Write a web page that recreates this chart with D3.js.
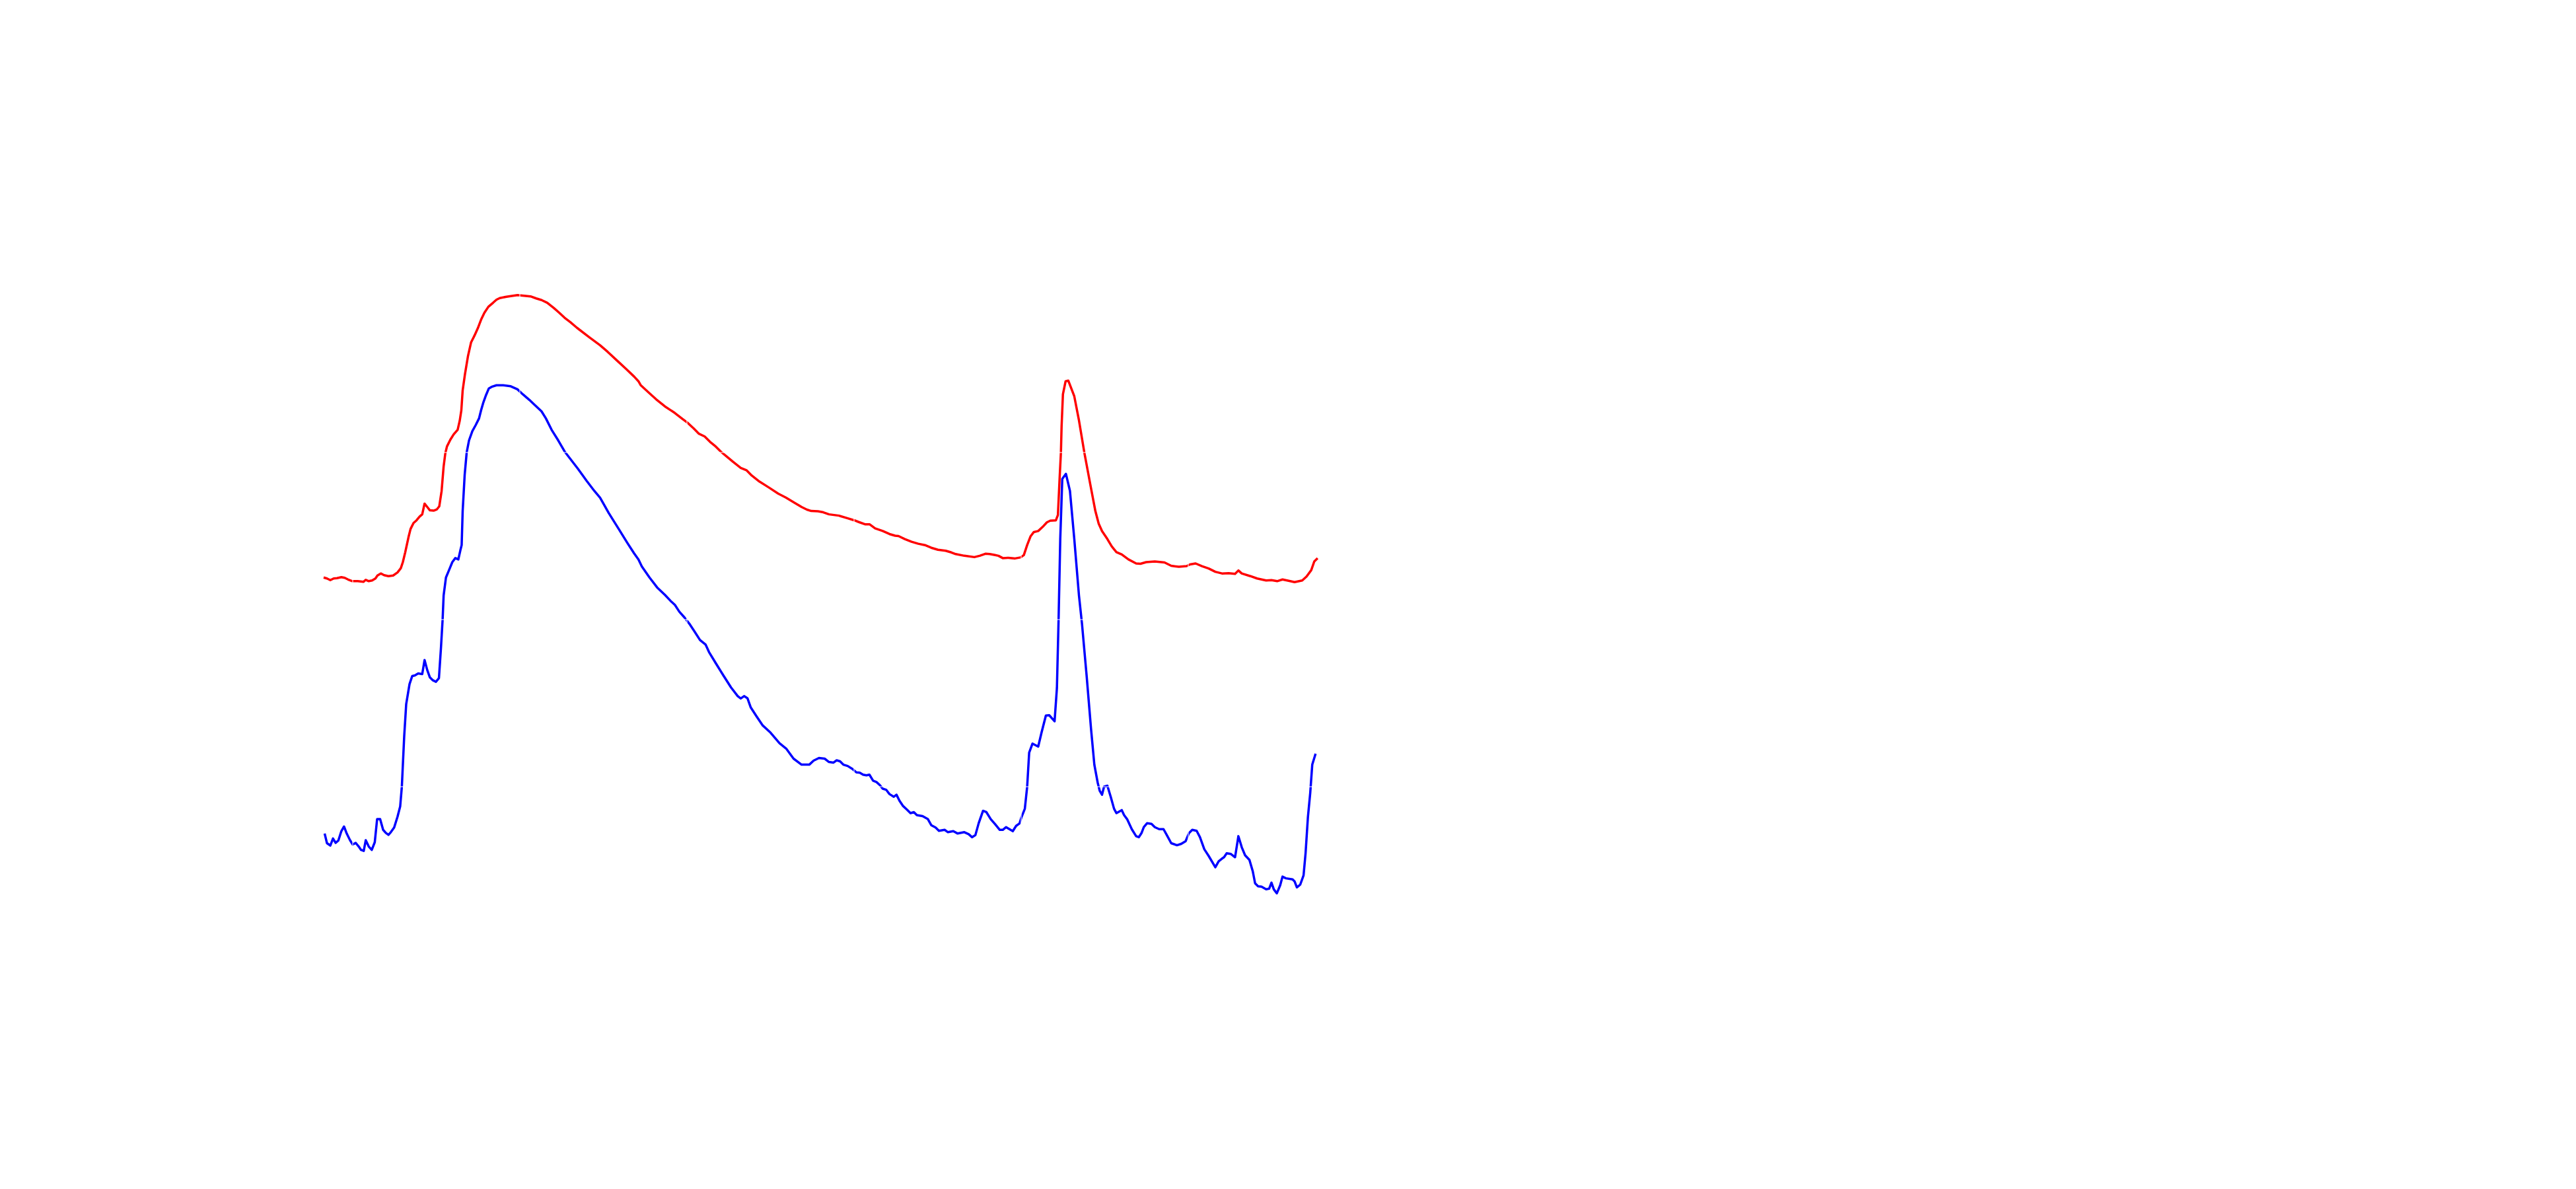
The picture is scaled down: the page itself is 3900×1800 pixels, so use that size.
<!DOCTYPE html>
<html>
<head>
<meta charset="utf-8">
<script src="https://cdn.jsdelivr.net/npm/d3@7"></script>
<style>
  html, body { margin: 0; padding: 0; background: #ffffff; }
  svg { display: block; }
</style>
</head>
<body>
<div id="chart"></div>
<script>
// ---- data ----
const redX = [91.3,92.3,93.3,94.3,95.3,96.6,97.6,98.6,99.9,101.5,103.2,103.9,104.8,105.8,106.8,107.4,108.4,109.4,110.7,112.1,113.4,114.4,115.0,115.7,116.7,117.3,118.2,119.1,120.0,120.8,121.5,122.3,123.1,124.2,125.2,125.9,126.6,127.2,127.7,128.2,129.2,130.2,131.4,132.0,132.5,132.9,133.6,134.5,135.4,136.4,137.4,138.4,139.4,140.6,142.0,143.0,144.0,146.0,147.3,149.3,151.3,153.2,154.9,156.5,158.2,160.2,161.8,163.4,165.1,
  167.1,171.0,174.0,176.3,179.2,181.9,184.2,185.5,186.2,188.5,190.8,193.4,196.4,198.7,200.3,202.0,203.6,205.3,206.9,208.6,210.2,211.9,213.8,216.1,217.8,219.4,221.7,224.4,227.3,229.6,232.3,234.3,235.9,237.2,239.2,
  240.8,242.5,245.5,248.1,250.1,251.4,253.4,254.7,256.3,258.6,260.6,262.3,263.3,265.2,267.2,269.2,271.2,273.1,275.1,277.4,279.1,280.4,283.0,286.0,287.6,289.3,290.6,292.2,293.2,294.5,296.2,298.2,299.8,300.8,301.8,302.8,303.8,305.1,306.4,307.7,308.7,310.4,311.0,311.5,311.9,312.1,312.5,313.3,314.1,
  315.9,317.3,318.9,320.6,322.2,323.2,324.2,325.8,327.1,328.5,330.1,332.1,334.4,335.7,337.4,340.0,342.9,344.9,347.2,349.5,350.5,352.2,354.1,356.1,358.1,360.1,362.1,364.0,365.0,366.0,368.6,370.6,373.3,374.9,376.6,378.2,380.5,381.8,384.1,385.4,386.8,387.7,388.7];
const redY = [1.126,1.123,1.118,1.123,1.124,1.127,1.125,1.120,1.115,1.115,1.113,1.119,1.115,1.117,1.123,1.132,1.138,1.133,1.130,1.132,1.141,1.154,1.172,1.201,1.247,1.271,1.289,1.297,1.308,1.315,1.347,1.337,1.327,1.326,1.330,1.339,1.385,1.458,1.497,1.518,1.538,1.554,1.568,1.594,1.626,1.686,1.735,1.789,1.829,1.849,1.871,1.897,1.918,1.936,1.948,1.957,1.962,1.966,1.968,1.971,1.969,1.967,1.961,1.956,1.948,1.932,1.918,1.903,1.890,
  1.873,1.843,1.821,1.801,1.774,1.749,1.727,1.713,1.701,1.680,1.659,1.638,1.618,1.600,1.588,1.572,1.556,1.548,1.532,1.518,1.502,1.488,1.472,1.454,1.447,1.431,1.413,1.396,1.377,1.365,1.349,1.337,1.329,1.325,1.324,
  1.321,1.315,1.311,1.303,1.297,1.292,1.285,1.285,1.273,1.265,1.256,1.251,1.250,1.241,1.233,1.227,1.223,1.215,1.209,1.206,1.201,1.196,1.191,1.187,1.191,1.197,1.196,1.193,1.191,1.184,1.185,1.183,1.186,1.193,1.223,1.249,1.262,1.265,1.277,1.291,1.296,1.297,1.313,1.421,1.500,1.578,1.674,1.713,1.715,
  1.668,1.596,1.500,1.409,1.325,1.287,1.265,1.241,1.219,1.202,1.195,1.180,1.168,1.167,1.172,1.174,1.171,1.161,1.158,1.160,1.165,1.168,1.160,1.153,1.143,1.138,1.139,1.137,1.147,1.138,1.130,1.123,1.117,1.118,1.115,1.120,1.115,1.112,1.117,1.129,1.148,1.174,1.184];

const blueX = [91.6,92.3,93.3,94.1,94.9,95.7,96.6,97.4,98.2,99.2,100.0,100.9,101.8,102.5,103.3,103.9,104.8,105.7,106.6,107.3,108.2,109.1,109.9,110.7,111.4,112.4,113.4,114.2,
  114.7,115.4,116.0,117.0,117.8,118.6,119.6,120.8,121.5,122.3,123.1,123.9,124.9,125.8,126.4,126.9,127.2,127.9,128.9,129.8,130.7,131.6,132.2,132.6,132.9,133.5,134.1,134.8,135.8,136.8,137.8,138.4,139.1,139.9,140.7,141.7,143.0,145.0,147.3,149.3,150.9,152.9,154.6,156.5,157.8,159.5,161.5,163.4,
  167.4,170.0,172.3,174.0,176.6,179.6,182.2,184.2,185.5,186.5,188.8,191.1,193.4,195.1,196.4,197.7,199.3,200.7,202.3,203.9,205.6,206.6,208.6,210.9,213.2,215.2,216.1,217.1,218.1,219.1,220.8,222.7,225.0,227.7,229.7,231.9,234.3,236.6,237.9,239.5,
  241.2,242.5,243.8,244.8,245.8,246.8,248.1,249.4,250.7,251.7,252.7,253.7,254.6,255.7,256.7,257.6,258.6,259.6,260.6,261.9,262.7,263.6,264.6,265.9,266.9,267.9,268.8,270.5,272.1,273.1,274.4,275.4,277.1,278.1,279.7,281.0,283.0,284.3,285.3,286.3,287.3,288.6,289.6,290.9,292.2,293.6,294.5,295.5,297.5,298.5,299.5,300.1,301.1,301.8,302.4,303.4,305.1,306.1,307.4,308.4,310.0,310.7,311.2,311.7,312.3,313.4,
  314.6,315.9,317.3,318.2,319.6,320.9,321.9,322.9,323.5,324.2,324.8,325.8,326.8,327.8,328.5,330.1,330.8,331.7,333.1,334.4,335.2,336.0,336.7,337.7,339.0,340.0,341.3,342.6,343.6,344.9,346.6,347.9,349.2,350.2,351.2,352.5,353.5,354.8,356.1,358.1,359.1,360.1,360.7,361.5,362.7,364.0,365.0,366.0,367.0,368.3,369.3,370.0,370.9,371.9,373.3,374.2,374.9,375.6,376.5,377.5,378.2,379.2,381.2,381.8,382.5,383.5,384.5,385.1,385.8,386.5,387.1,388.1];
const blueY = [0.360,0.331,0.324,0.345,0.332,0.339,0.367,0.381,0.360,0.340,0.327,0.332,0.321,0.311,0.308,0.340,0.321,0.311,0.334,0.403,0.403,0.371,0.362,0.356,0.364,0.378,0.410,0.441,
  0.500,0.650,0.747,0.807,0.831,0.833,0.839,0.837,0.879,0.849,0.827,0.819,0.814,0.825,0.915,1.000,1.072,1.126,1.150,1.172,1.184,1.180,1.207,1.223,1.325,1.433,1.500,1.536,1.564,1.582,1.602,1.626,1.650,1.672,1.691,1.697,1.701,1.701,1.698,1.689,1.674,1.657,1.641,1.623,1.602,1.568,1.536,1.503,
  1.451,1.415,1.385,1.365,1.319,1.271,1.229,1.198,1.180,1.159,1.126,1.096,1.074,1.056,1.044,1.024,1.006,0.988,0.964,0.939,0.925,0.903,0.870,0.833,0.797,0.771,0.764,0.771,0.765,0.737,0.711,0.683,0.662,0.630,0.614,0.584,0.566,0.566,0.578,0.586,
  0.584,0.574,0.572,0.579,0.576,0.566,0.562,0.554,0.543,0.542,0.536,0.534,0.536,0.518,0.514,0.506,0.494,0.491,0.478,0.470,0.476,0.458,0.443,0.431,0.421,0.424,0.415,0.412,0.403,0.385,0.378,0.368,0.371,0.364,0.367,0.360,0.364,0.358,0.349,0.355,0.391,0.428,0.424,0.403,0.388,0.371,0.371,0.379,0.367,0.383,0.390,0.409,0.434,0.500,0.602,0.629,0.620,0.662,0.713,0.714,0.696,0.795,1.000,1.241,1.421,1.436,
  1.385,1.241,1.072,0.988,0.831,0.674,0.566,0.512,0.488,0.476,0.500,0.503,0.470,0.434,0.421,0.430,0.415,0.403,0.373,0.352,0.349,0.361,0.379,0.391,0.389,0.379,0.373,0.373,0.355,0.331,0.325,0.329,0.337,0.361,0.371,0.368,0.349,0.313,0.293,0.259,0.277,0.285,0.289,0.301,0.299,0.289,0.352,0.319,0.295,0.281,0.247,0.211,0.202,0.201,0.193,0.195,0.213,0.193,0.181,0.205,0.231,0.226,0.223,0.217,0.199,0.207,0.235,0.301,0.409,0.482,0.566,0.599];

const xTicks = [100, 150, 200, 250, 300, 350];
const yTicks = [0, 0.5, 1.0, 1.5, 2.0];

// ---- drawing ----
const W = 3900, H = 1800;
const svg = d3.select("#chart").append("svg")
  .attr("width", W).attr("height", H)
  .style("background", "#ffffff");

const x = d3.scaleLinear().domain([100, 350]).range([534, 1799]);
const y = d3.scaleLinear().domain([0, 2]).range([1444, 432]);

const line = d3.line().x(d => x(d[0])).y(d => y(d[1]));

const redData = redX.map((v, i) => [v, redY[i]]);
const blueData = blueX.map((v, i) => [v, blueY[i]]);

svg.append("path").datum(redData)
  .attr("d", line)
  .attr("fill", "none")
  .attr("stroke", "#ff0000")
  .attr("stroke-width", 3.5)
  .attr("stroke-linejoin", "round");

svg.append("path").datum(blueData)
  .attr("d", line)
  .attr("fill", "none")
  .attr("stroke", "#0000ff")
  .attr("stroke-width", 3.5)
  .attr("stroke-linejoin", "round");

// white grid lines drawn over the series
const grid = svg.append("g").attr("stroke", "#ffffff").attr("stroke-width", 1);
grid.selectAll("line.v").data(xTicks).join("line")
  .attr("class", "v")
  .attr("x1", d => x(d)).attr("x2", d => x(d))
  .attr("y1", 380).attr("y2", 1500);
grid.selectAll("line.h").data(yTicks).join("line")
  .attr("class", "h")
  .attr("x1", 480).attr("x2", 2010)
  .attr("y1", d => y(d)).attr("y2", d => y(d));
</script>
</body>
</html>
